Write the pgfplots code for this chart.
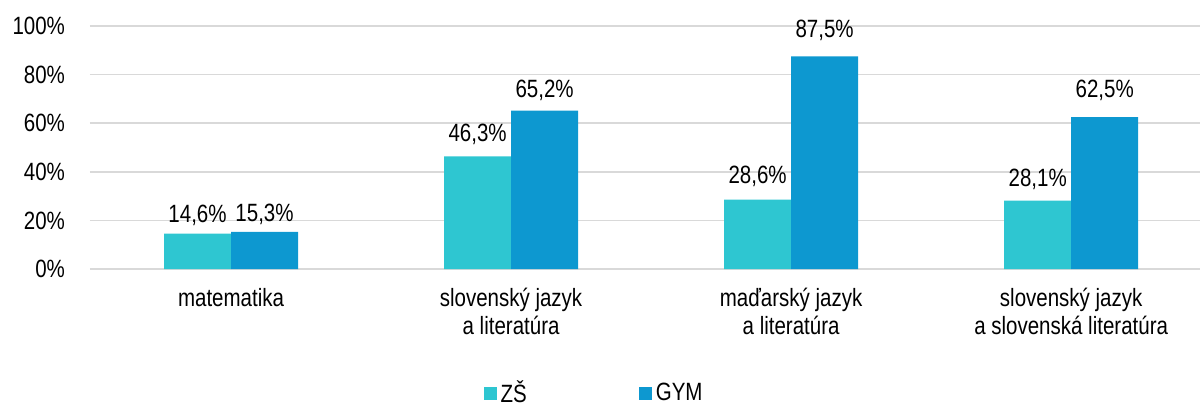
\documentclass[border=0pt]{standalone}
\usepackage{pgfplots}
\pgfplotsset{compat=1.18}
\usepackage{fontspec}
\setmainfont{Liberation Sans}[FakeStretch=0.82]
\definecolor{zs}{RGB}{46,198,209}
\definecolor{gym}{RGB}{13,152,208}
\definecolor{gridc}{RGB}{217,217,217}
\begin{document}
\begin{tikzpicture}
\begin{axis}[
  at={(0,0)}, anchor=south west,
  scale only axis, width=555pt, height=121.5pt,
  xmin=-0.5036, xmax=3.46, ymin=0, ymax=100,
  ybar=0pt, bar width=33.5pt,
  legend image code/.code={\fill[#1,draw=none] (0pt,-3.25pt) rectangle (6.5pt,3.25pt);},
  axis line style={draw=none},
  major tick length=0pt,
  ymajorgrids, grid style={gridc, line width=0.8pt},
  ytick={0,20,40,60,80,100},
  yticklabel={\pgfmathprintnumber{\tick}\%},
  yticklabel style={xshift=-9pt},
  /pgf/number format/assume math mode=true,
  xtick={0,1,2,3},
  xticklabels={{matematika},{slovenský jazyk\\a literatúra},{maďarský jazyk\\a literatúra},{slovenský jazyk\\a slovenská literatúra}},
  xticklabel style={align=center, yshift=-6pt},
  font=\fontsize{12.5pt}{14pt}\selectfont,
  visualization depends on={\thisrow{off} \as \labeloff},
  nodes near coords={\pgfmathprintnumber[fixed,precision=1,fixed zerofill,use comma]{\pgfplotspointmeta}\%},
  nodes near coords style={font=\fontsize{12.5pt}{14pt}\selectfont, /pgf/number format/assume math mode=true, yshift=\labeloff pt},
  legend columns=2,
  legend style={draw=none, at={(0.455,-0.512)}, anchor=center, font=\fontsize{12.5pt}{14pt}\selectfont,
    /tikz/every even column/.append style={column sep=54pt}},
]
\addplot[fill=zs, draw=none] table[x=x, y=y] {
x y off
0 14.6 0.5
1 46.3 2.5
2 28.6 3
3 28.1 2
};
\addplot[fill=gym, draw=none] table[x=x, y=y] {
x y off
0 15.3 0
1 65.2 1.5
2 87.5 4.5
3 62.5 4.5
};
\legend{ZŠ,GYM}
\end{axis}
\pgfresetboundingbox
\path (-45pt,-67pt) rectangle (555.5pt,134.5pt);
\end{tikzpicture}
\end{document}
